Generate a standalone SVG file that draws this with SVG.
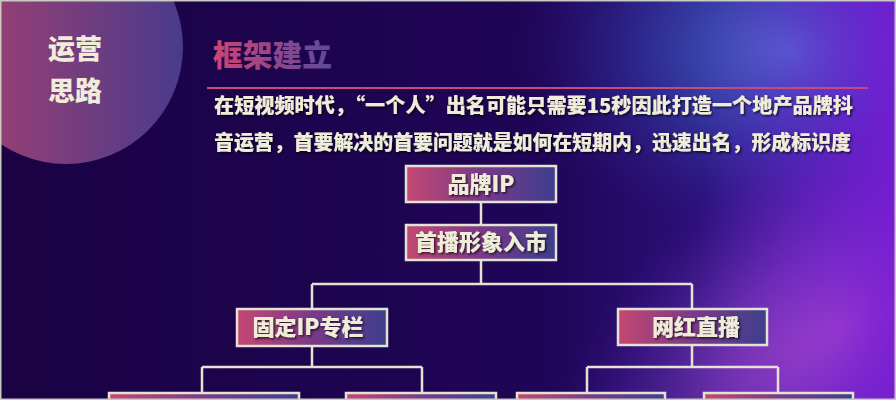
<svg xmlns="http://www.w3.org/2000/svg" width="896" height="400" viewBox="0 0 896 400">
<defs>
<linearGradient id="bg" x1="0" y1="0" x2="1" y2="0">
<stop offset="0" stop-color="#1a0244"/>
<stop offset="0.6" stop-color="#1f0556"/>
<stop offset="1" stop-color="#3a1aa0"/>
</linearGradient>
<radialGradient id="glowBlue" cx="790" cy="50" r="280" gradientUnits="userSpaceOnUse" gradientTransform="translate(790 50) scale(1 0.7) translate(-790 -50)">
<stop offset="0" stop-color="#4a7ad2" stop-opacity="0.95"/>
<stop offset="0.5" stop-color="#3548b0" stop-opacity="0.55"/>
<stop offset="1" stop-color="#2a1880" stop-opacity="0"/>
</radialGradient>
<radialGradient id="glowPink" cx="840" cy="330" r="250" gradientUnits="userSpaceOnUse" gradientTransform="translate(840 330) rotate(-35) scale(1.3 0.75) translate(-840 -330)">
<stop offset="0" stop-color="#c462c8" stop-opacity="0.95"/>
<stop offset="0.45" stop-color="#8a42c2" stop-opacity="0.6"/>
<stop offset="1" stop-color="#4a20a0" stop-opacity="0"/>
</radialGradient>
<linearGradient id="edge" x1="0" y1="0" x2="1" y2="0">
<stop offset="0" stop-color="#7020d0" stop-opacity="0"/>
<stop offset="1" stop-color="#7a1ad8" stop-opacity="0.85"/>
</linearGradient>
<linearGradient id="circ" x1="0" y1="0" x2="1" y2="0">
<stop offset="0" stop-color="#a8406e"/>
<stop offset="1" stop-color="#4a3a8c"/>
</linearGradient>
<linearGradient id="title" x1="0" y1="0" x2="1" y2="0">
<stop offset="0" stop-color="#d04470"/>
<stop offset="1" stop-color="#5a4a9e"/>
</linearGradient>
<linearGradient id="box" x1="0" y1="0" x2="1" y2="0">
<stop offset="0" stop-color="#c44872"/>
<stop offset="0.5" stop-color="#7a3a88"/>
<stop offset="1" stop-color="#3e3e8e"/>
</linearGradient>
<filter id="sh" x="-10%" y="-30%" width="120%" height="160%">
<feDropShadow dx="1.5" dy="1.5" stdDeviation="1" flood-color="#000000" flood-opacity="0.7"/>
</filter>
</defs>
<style>
.lt{font-family:"Noto Sans CJK SC","Noto Sans",sans-serif;font-weight:900;fill:#efedd8;}
.bx{fill:url(#box);stroke:#e4e2d2;stroke-width:2.5;}
.bt{font-family:"Noto Sans CJK SC","Noto Sans",sans-serif;font-weight:900;fill:#efedd8;font-size:22px;text-anchor:middle;}
.cn{fill:none;stroke:#e4e2d2;stroke-width:2.5;}
</style>
<rect width="896" height="400" fill="url(#bg)"/>
<rect width="896" height="400" fill="url(#glowBlue)"/>
<rect width="896" height="400" fill="url(#glowPink)"/>
<rect x="700" width="196" height="400" fill="url(#edge)"/>
<circle cx="66" cy="47" r="117" fill="url(#circ)"/>
<text class="lt" x="75" y="59" font-size="27" text-anchor="middle">运营</text>
<text class="lt" x="75" y="101" font-size="27" text-anchor="middle">思路</text>
<text x="213" y="66" font-family="'Noto Sans CJK SC',sans-serif" font-weight="900" font-size="30" fill="url(#title)" textLength="119" lengthAdjust="spacingAndGlyphs">框架建立</text>
<line x1="207" y1="88" x2="868" y2="88" stroke="#c84a7a" stroke-width="2"/>
<g filter="url(#sh)">
<text class="lt" x="214" y="113" font-size="20" textLength="639" lengthAdjust="spacingAndGlyphs">在短视频时代，“一个人”出名可能只需要15秒因此打造一个地产品牌抖</text>
<text class="lt" x="214" y="150" font-size="20" textLength="637" lengthAdjust="spacingAndGlyphs">音运营，首要解决的首要问题就是如何在短期内，迅速出名，形成标识度</text>
</g>
<g id="connectors">
<path class="cn" d="M481 203 V225"/>
<path class="cn" d="M481 260 V284 M312 284 H692 M312 284 V309 M692 284 V309"/>
<path class="cn" d="M312 346 V367 M202 367 H422 M202 367 V393 M422 367 V393"/>
<path class="cn" d="M692 345 V367 M587 367 H778 M587 367 V393 M778 367 V393"/>
</g>
<g id="node-brand">
<rect class="bx" x="406" y="166" width="150" height="36"/>
<text class="bt" x="481" y="192" filter="url(#sh)">品牌IP</text>
</g>
<g id="node-debut">
<rect class="bx" x="406" y="225" width="150" height="35"/>
<text class="bt" x="481" y="250" filter="url(#sh)">首播形象入市</text>
</g>
<g id="node-column">
<rect class="bx" x="237" y="309" width="150" height="37"/>
<text class="bt" x="308" y="335" filter="url(#sh)">固定IP专栏</text>
</g>
<g id="node-live">
<rect class="bx" x="618" y="309" width="149" height="36"/>
<text class="bt" x="696" y="335" filter="url(#sh)">网红直播</text>
</g>
<g id="node-b1"><rect class="bx" x="109" y="393" width="190" height="20"/></g>
<g id="node-b2"><rect class="bx" x="346" y="393" width="150" height="20"/></g>
<g id="node-b3"><rect class="bx" x="517" y="393" width="148" height="20"/></g>
<g id="node-b4"><rect class="bx" x="704" y="393" width="149" height="20"/></g>
<rect x="0.75" y="0.75" width="894.5" height="398.5" fill="none" stroke="#c8ccc0" stroke-width="1.5"/>
</svg>
